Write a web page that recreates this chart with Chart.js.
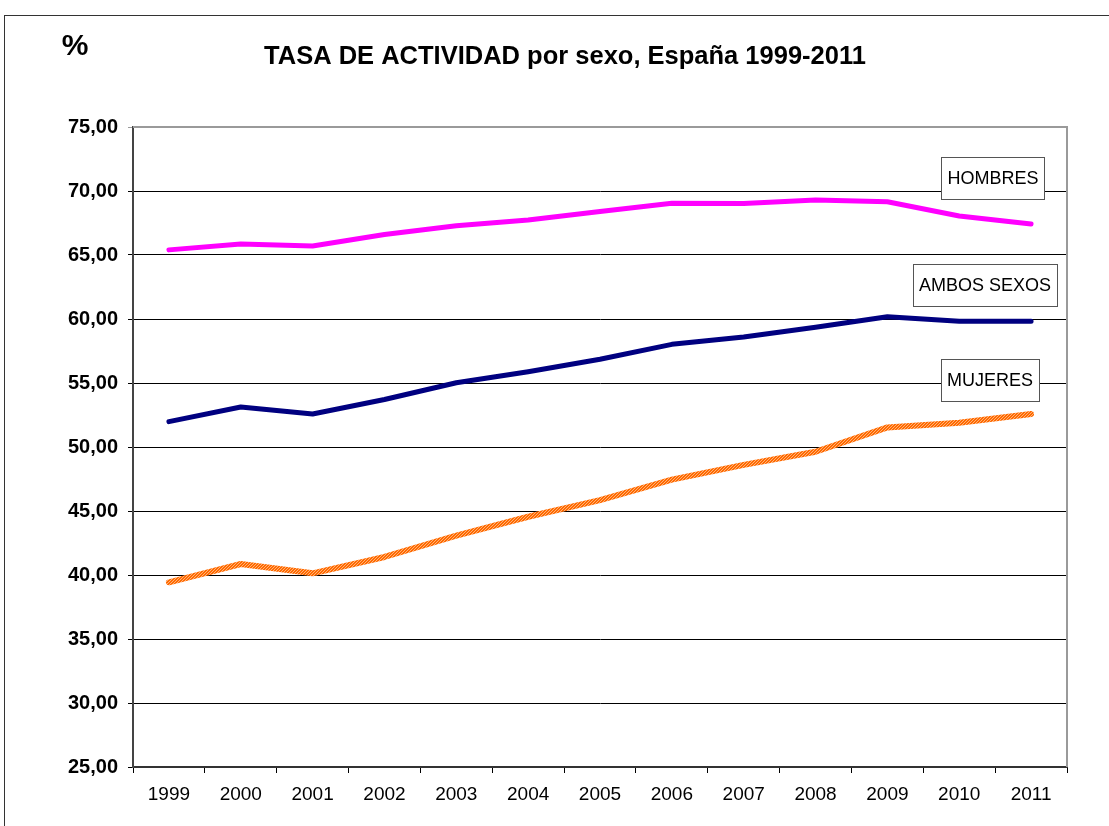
<!DOCTYPE html>
<html>
<head>
<meta charset="utf-8">
<script src="https://cdn.jsdelivr.net/npm/chart.js@4"></script>
<style>
  html, body { margin: 0; padding: 0; background: #fff; }
  #wrap { width: 1109px; height: 826px; }
</style>
</head>
<body>
<div id="wrap"><canvas id="chart" width="1109" height="826"></canvas></div>
<script>
// data
const years = ['1999', '2000', '2001', '2002', '2003', '2004', '2005', '2006', '2007', '2008', '2009', '2010', '2011'];
const hombres = [65.40, 65.86, 65.70, 66.60, 67.29, 67.73, 68.40, 69.05, 69.03, 69.30, 69.16, 68.05, 67.42];
const ambos = [51.98, 53.13, 52.58, 53.71, 55.02, 55.88, 56.85, 58.02, 58.60, 59.35, 60.18, 59.82, 59.82];
const mujeres = [39.43, 40.86, 40.13, 41.41, 43.07, 44.55, 45.85, 47.45, 48.60, 49.63, 51.53, 51.90, 52.58];

const titleText = 'TASA DE ACTIVIDAD por sexo, España 1999-2011';
const FONT = '"Liberation Sans", Arial, sans-serif';

// dotted orange brush for the MUJERES line
function orangePattern() {
    const c = document.createElement('canvas');
    c.width = 3; c.height = 3;
    const g = c.getContext('2d');
    g.fillStyle = '#ff6a00';
    g.fillRect(0, 0, 3, 3);
    g.fillStyle = '#ffb27a';
    g.fillRect(0, 0, 1, 1);
    g.fillRect(2, 1, 1, 1);
    g.fillRect(1, 2, 1, 1);
    return g.createPattern(c, 'repeat');
}

// boxed series labels, anchored in data coordinates
const seriesLabels = [
    { text: 'HOMBRES', i: 11.47, v: 71.02 },
    { text: 'AMBOS SEXOS', i: 11.36, v: 62.62 },
    { text: 'MUJERES', i: 11.43, v: 55.20 }
];

const decorPlugin = {
    id: 'decor',
    beforeDraw(chart) {
        const ctx = chart.ctx;
        ctx.save();
        ctx.fillStyle = '#fff';
        ctx.fillRect(0, 0, chart.width, chart.height);
        // outer frame
        ctx.strokeStyle = '#333';
        ctx.lineWidth = 1;
        ctx.strokeRect(4.5, 15.5, 1120, 830);
        // title and unit
        ctx.fillStyle = '#000';
        ctx.textAlign = 'center';
        ctx.textBaseline = 'middle';
        ctx.font = 'bold 25.5px ' + FONT;
        ctx.fillText(titleText, 565, 57);
        ctx.font = 'bold 30px ' + FONT;
        ctx.fillText('%', 75, 47);
        ctx.restore();
    },
    afterDatasetsDraw(chart) {
        const ctx = chart.ctx;
        const a = chart.chartArea;
        const xs = chart.scales.x, ys = chart.scales.y;
        ctx.save();
        // plot border right/top
        ctx.strokeStyle = '#9a9a9a';
        ctx.lineWidth = 2;
        ctx.beginPath();
        ctx.moveTo(a.left, a.top);
        ctx.lineTo(a.right, a.top);
        ctx.lineTo(a.right, a.bottom);
        ctx.stroke();
        // labels
        ctx.font = '18px ' + FONT;
        ctx.textAlign = 'center';
        ctx.textBaseline = 'middle';
        seriesLabels.forEach(l => {
            const cx = xs.getPixelForValue(l.i);
            const cy = ys.getPixelForValue(l.v);
            const w = ctx.measureText(l.text).width + 12;
            const h = 42;
            ctx.fillStyle = '#fff';
            ctx.fillRect(cx - w / 2, cy - h / 2, w, h);
            ctx.strokeStyle = '#555';
            ctx.lineWidth = 1;
            ctx.strokeRect(Math.round(cx - w / 2) + 0.5, Math.round(cy - h / 2) + 0.5, Math.round(w), h);
            ctx.fillStyle = '#000';
            ctx.fillText(l.text, cx, cy + 1);
        });
        ctx.restore();
    }
};

new Chart(document.getElementById('chart'), {
    type: 'line',
    data: {
        labels: years,
        datasets: [
            { label: 'HOMBRES', data: hombres, borderColor: '#ff00ff', borderWidth: 5 },
            { label: 'AMBOS SEXOS', data: ambos, borderColor: '#000080', borderWidth: 5 },
            { label: 'MUJERES', data: mujeres, borderColor: orangePattern(), borderWidth: 6 }
        ]
    },
    options: {
        responsive: false,
        animation: false,
        events: [],
        elements: {
            point: { radius: 0 },
            line: { tension: 0, borderCapStyle: 'round', borderJoinStyle: 'round' }
        },
        layout: { padding: { left: 0, top: 127, right: 42, bottom: 0 } },
        plugins: {
            legend: { display: false },
            title: { display: false },
            tooltip: { enabled: false }
        },
        scales: {
            x: {
                offset: true,
                afterFit(s) { s.height = 59; },
                grid: {
                    offset: true,
                    drawOnChartArea: false,
                    drawTicks: true,
                    tickLength: 6,
                    color: '#000'
                },
                border: { color: '#333', width: 2 },
                ticks: {
                    color: '#000',
                    font: { family: FONT, size: 19 },
                    padding: 10,
                    maxRotation: 0
                }
            },
            y: {
                min: 25,
                max: 75,
                afterFit(s) { s.width = 133; },
                grid: {
                    color: c => c.tick && c.tick.value === 75 ? '#9a9a9a' : '#000',
                    lineWidth: 1,
                    drawTicks: true,
                    tickLength: 5
                },
                border: { color: '#444', width: 2 },
                ticks: {
                    stepSize: 5,
                    color: '#000',
                    padding: 10,
                    font: { family: FONT, size: 20, weight: 'bold' },
                    callback: v => v.toFixed(2).replace('.', ',')
                }
            }
        }
    },
    plugins: [decorPlugin]
});
</script>
</body>
</html>
